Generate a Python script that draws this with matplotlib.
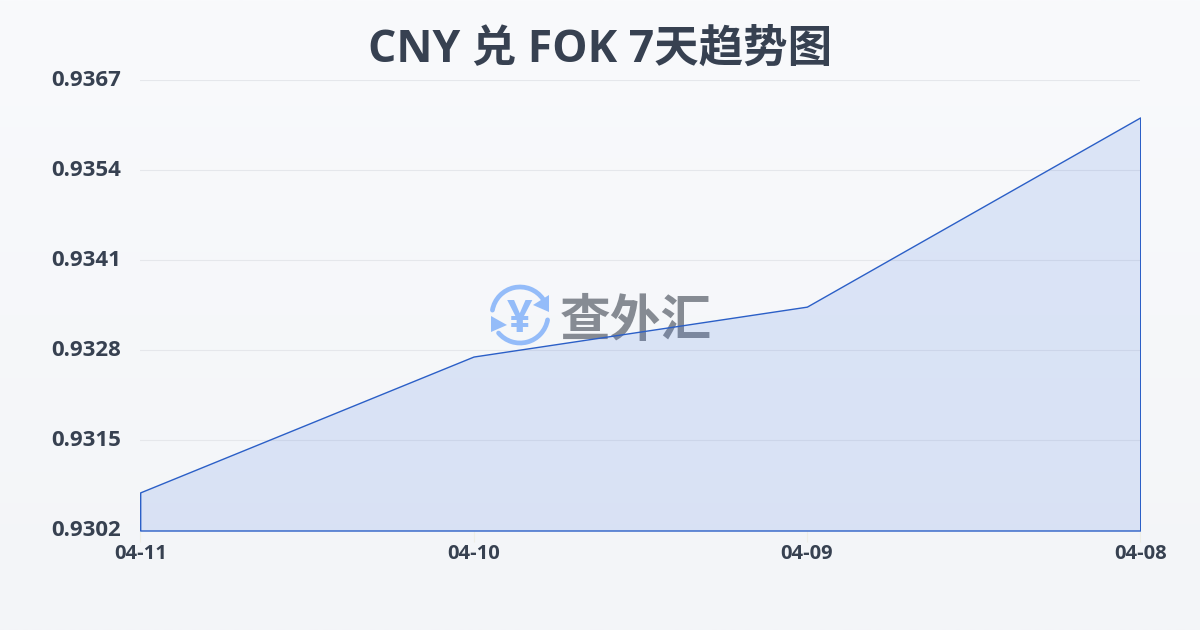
#!/usr/bin/env python3
# -*- coding: utf-8 -*-
"""CNY / FOK 7-day trend area chart, saved to out.png."""

import numpy as np
import matplotlib

matplotlib.use("Agg")
import matplotlib.pyplot as plt
from matplotlib.colors import LinearSegmentedColormap, to_rgba
from matplotlib.patches import Arc, Polygon
from matplotlib.transforms import ScaledTranslation

dates = ["04-11", "04-10", "04-09", "04-08"]
rates = [0.93075, 0.93271, 0.93343, 0.93616]
y_ticks = [0.9302, 0.9315, 0.9328, 0.9341, 0.9354, 0.9367]
title = "CNY 兑 FOK 7天趋势图"

# Open Sans has a real bold face and is close to the reference's Latin glyphs
FONT = ["Open Sans", "Noto Sans CJK SC", "DejaVu Sans"]
CJK = ["Noto Sans CJK SC", "DejaVu Sans"]
TEXT = "#374151"
LINE = "#2b5fc7"
LOGO = "#94bcf9"
W, H = 1200, 630

plt.rcParams["font.family"] = FONT

fig = plt.figure(figsize=(W / 100, H / 100), dpi=100)

# background gradient and the watermark share one axes in pixel coordinates
bg = fig.add_axes([0, 0, 1, 1], zorder=0)
cmap = LinearSegmentedColormap.from_list("bg", ["#f9fafc", "#f3f5f8"])
bg.imshow(np.linspace(0, 1, 256).reshape(-1, 1), aspect="auto", cmap=cmap,
          extent=(0, W, H, 0))
bg.set_xlim(0, W)
bg.set_ylim(H, 0)
bg.axis("off")

cx, cy, r = 520, 315, 28
bg.add_patch(Arc((cx, cy), 2 * r, 2 * r, theta1=190, theta2=325, lw=3.4,
                 color=LOGO, capstyle="round"))
bg.add_patch(Arc((cx, cy), 2 * r, 2 * r, theta1=10, theta2=140, lw=3.4,
                 color=LOGO, capstyle="round"))
bg.add_patch(Polygon([(549, 295), (549, 312), (533, 305)], color=LOGO, lw=0))
bg.add_patch(Polygon([(491, 316), (507, 325), (491, 332)], color=LOGO, lw=0))
bg.text(cx, cy, "¥", color=LOGO, fontsize=32, fontweight="bold",
        ha="center", va="center_baseline")
bg.text(636, 316, "查外汇", color="#868b93", fontsize=36.5, fontweight=900,
        family=CJK, ha="center", va="center_baseline")

ax = fig.add_axes([140.2 / W, 1 - 530.5 / H, 1000 / W, 450.5 / H], zorder=1)
ax.patch.set_alpha(0)

x = np.arange(len(dates))
ax.fill_between(x, y_ticks[0], rates, facecolor=to_rgba("#3f74e0", 0.15),
                edgecolor=LINE, linewidth=1.0, zorder=3)

ax.set_xlim(x[0], x[-1])
ax.set_ylim(y_ticks[0], y_ticks[-1])
ax.set_xticks(x, dates)
ax.set_yticks(y_ticks, [f"{v:.4f}" for v in y_ticks])
ax.grid(axis="y", color="#e5e7eb", linewidth=0.8, zorder=1)
ax.tick_params(axis="y", length=0, pad=14, labelsize=16, labelcolor=TEXT)
ax.tick_params(axis="x", length=8, width=0.8, color="#eeeee6", pad=2,
               labelsize=14.5, labelcolor=TEXT)
for lab in ax.get_xticklabels() + ax.get_yticklabels():
    lab.set_fontweight("bold")
# the y labels sit about 2 px above their grid lines
lift = ScaledTranslation(0, 2 / 100, fig.dpi_scale_trans)
for lab in ax.get_yticklabels():
    lab.set_transform(lab.get_transform() + lift)
for s in ax.spines.values():
    s.set_visible(False)

fig.text(0.5, 1 - 44.5 / H, title, color=TEXT, fontsize=32, fontweight="bold",
         ha="center", va="center_baseline")

fig.savefig("out.png", dpi=100)
plt.close(fig)
